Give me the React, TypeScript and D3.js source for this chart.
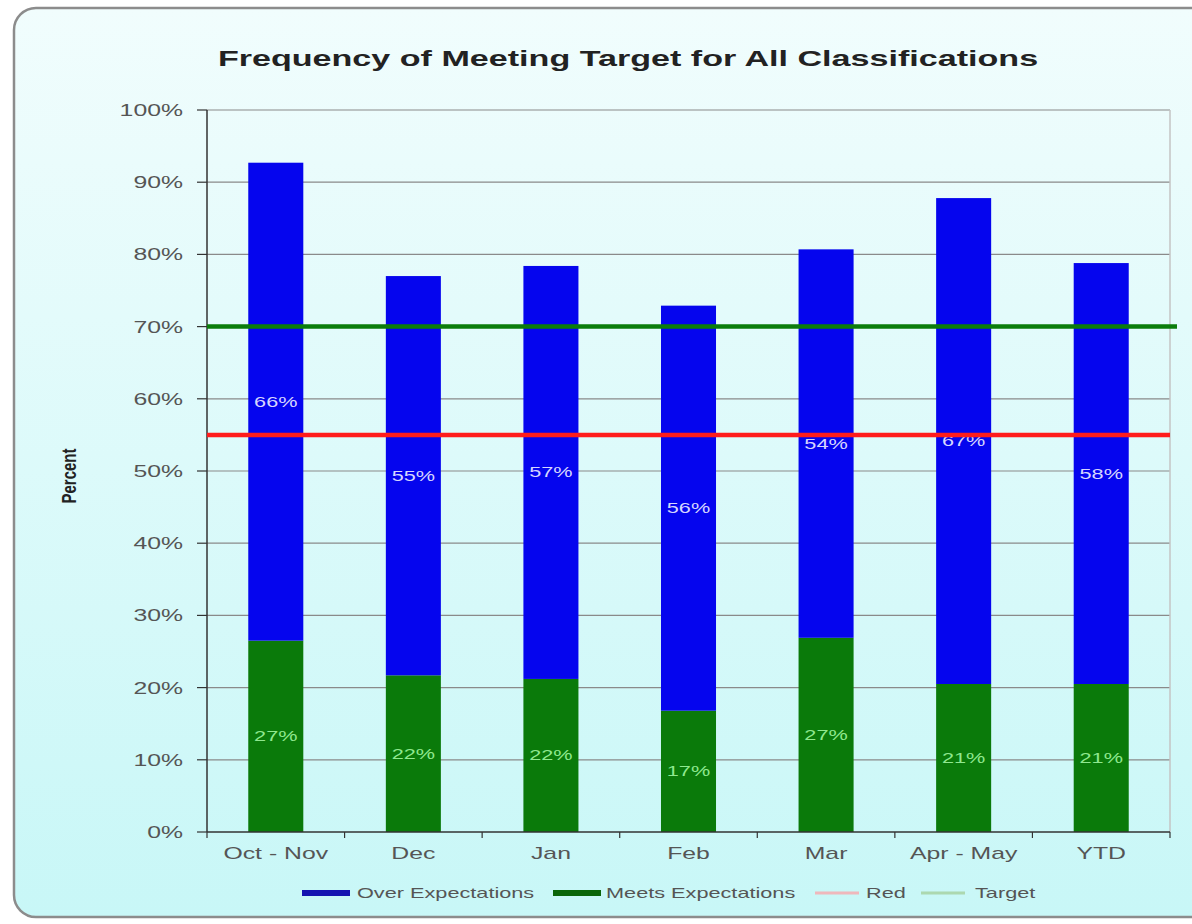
import React from 'react';
import * as d3 from 'd3';

const categories = ['Oct - Nov', 'Dec', 'Jan', 'Feb', 'Mar', 'Apr - May', 'YTD'];
const meetsValues = [26.5, 21.7, 21.2, 16.8, 26.9, 20.5, 20.5];
const overValues = [66.2, 55.3, 57.2, 56.1, 53.8, 67.3, 58.3];
const meetsLabels = ['27%', '22%', '22%', '17%', '27%', '21%', '21%'];
const overLabels = ['66%', '55%', '57%', '56%', '54%', '67%', '58%'];
const yTicks = [0, 10, 20, 30, 40, 50, 60, 70, 80, 90, 100];
const redLevel = 55;
const targetLevel = 70;

const W = 1192;
const H = 924;
const SX = 1.55; // the picture is stretched sideways
const font = 'Arial, "Liberation Sans", sans-serif';

const Txt = ({ x, y, size, anchor = 'middle', fill = '#555', weight = 'normal', children }: any) => (
  <text
    transform={`translate(${x},${y}) scale(${SX},1)`}
    textAnchor={anchor}
    fontSize={size}
    fontFamily={font}
    fontWeight={weight}
    fill={fill}
  >
    {children}
  </text>
);

const App = () => {
  const left = 207;
  const right = 1170;
  const top = 110;
  const bottom = 832;

  const x = d3.scaleBand().domain(categories).range([left, right]).paddingInner(0.6).paddingOuter(0.3);
  const y = d3.scaleLinear().domain([0, 100]).range([bottom, top]);
  const step = x.step();

  const legend = [
    { kind: 'bar', color: '#1414b0', label: 'Over Expectations', x: 302, tx: 357 },
    { kind: 'bar', color: '#0a660a', label: 'Meets Expectations', x: 553, tx: 606 },
    { kind: 'line', color: '#efb8bc', label: 'Red', x: 815, tx: 866 },
    { kind: 'line', color: '#acd8b0', label: 'Target', x: 921, tx: 975 },
  ];

  return (
    <div style={{ position: 'absolute', left: 0, top: 0 }}>
      <svg width={W} height={H} style={{ display: 'block' }}>
        <defs>
          <linearGradient id="bg" x1="0" y1="0" x2="0" y2="1">
            <stop offset="0" stopColor="#f1fdfd" />
            <stop offset="1" stopColor="#c8f7f7" />
          </linearGradient>
        </defs>
        <rect x={0} y={0} width={W} height={H} fill="#ffffff" />
        <rect x={14} y={8} width={1200} height={909} rx={22} fill="url(#bg)" stroke="#8c8c8c" strokeWidth={2.5} />

        <Txt x={628} y={66} size={22} weight="bold" fill="#222">
          Frequency of Meeting Target for All Classifications
        </Txt>

        {/* grid */}
        {yTicks.map((t) => (
          <g key={t}>
            {t > 0 && <line x1={left} x2={right} y1={y(t)} y2={y(t)} stroke="#8a8a8a" strokeWidth={1.2} />}
            <line x1={left - 10} x2={left} y1={y(t)} y2={y(t)} stroke="#333" strokeWidth={1.2} />
            <Txt x={183} y={y(t) + 6} size={16} anchor="end">
              {t + '%'}
            </Txt>
          </g>
        ))}
        <line x1={right} x2={right} y1={top} y2={bottom} stroke="#c4c4c4" strokeWidth={1.5} />

        {/* bars */}
        {categories.map((c, i) => {
          const bx = x(c) as number;
          const g0 = y(0);
          const g1 = y(meetsValues[i]);
          const b1 = y(meetsValues[i] + overValues[i]);
          return (
            <g key={c}>
              <rect x={bx} y={g1} width={x.bandwidth()} height={g0 - g1} fill="#0a7a0a" />
              <rect x={bx} y={b1} width={x.bandwidth()} height={g1 - b1} fill="#0505ee" />
            </g>
          );
        })}

        {/* axes */}
        <line x1={left} x2={left} y1={top} y2={bottom} stroke="#333" strokeWidth={1.5} />
        <line x1={left} x2={right} y1={bottom} y2={bottom} stroke="#333" strokeWidth={1.5} />
        {d3.range(categories.length + 1).map((k) => (
          <line key={k} x1={left + k * step} x2={left + k * step} y1={bottom} y2={bottom + 6} stroke="#333" strokeWidth={1.2} />
        ))}
        {categories.map((c) => (
          <Txt key={c} x={(x(c) as number) + x.bandwidth() / 2} y={859} size={16}>
            {c}
          </Txt>
        ))}

        {/* data labels */}
        {categories.map((c, i) => {
          const cx = (x(c) as number) + x.bandwidth() / 2;
          const mg = y(meetsValues[i] / 2);
          const mo = y(meetsValues[i] + overValues[i] / 2);
          return (
            <g key={c}>
              <Txt x={cx} y={mg + 5} size={14} fill="#8fe88f">
                {meetsLabels[i]}
              </Txt>
              <Txt x={cx} y={mo + 5} size={14} fill="#d6d6ff">
                {overLabels[i]}
              </Txt>
            </g>
          );
        })}

        {/* reference lines */}
        <line x1={left} x2={1177} y1={y(targetLevel)} y2={y(targetLevel)} stroke="#0b7d0b" strokeWidth={4.5} />
        <line x1={left} x2={right} y1={y(redLevel)} y2={y(redLevel)} stroke="#ff1c1c" strokeWidth={4.5} />

        {/* y title */}
        <text
          transform={`translate(76,476) rotate(-90) scale(1,1.3)`}
          textAnchor="middle"
          fontSize={15}
          fontFamily={font}
          fontWeight="bold"
          fill="#222"
        >
          Percent
        </text>

        {/* legend */}
        {legend.map((l) => (
          <g key={l.label}>
            {l.kind === 'bar' ? (
              <rect x={l.x} y={890} width={48} height={6} fill={l.color} />
            ) : (
              <line x1={l.x} x2={l.x + 44} y1={893} y2={893} stroke={l.color} strokeWidth={3} />
            )}
            <Txt x={l.tx} y={898} size={14} anchor="start">
              {l.label}
            </Txt>
          </g>
        ))}
      </svg>
    </div>
  );
};

export default App;
